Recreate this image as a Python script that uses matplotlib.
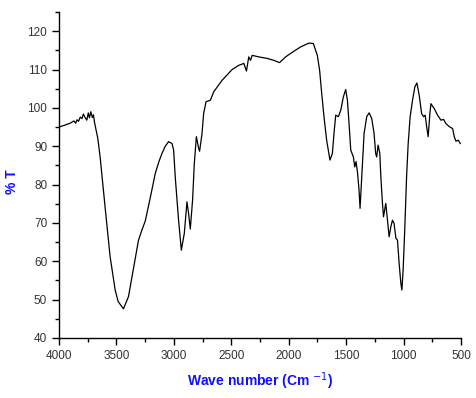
import matplotlib
matplotlib.use('Agg')
import matplotlib.pyplot as plt
from matplotlib.ticker import MultipleLocator

# FTIR spectrum
wavenumber = [4000, 3950, 3904, 3870, 3855, 3843, 3830, 3815, 3800, 3788, 3775, 3758,
              3745, 3735, 3723, 3710, 3700, 3692, 3662, 3642, 3599, 3555, 3511, 3485,
              3439, 3395, 3354, 3308, 3280, 3249, 3206, 3162, 3130, 3104, 3075, 3046, 3016, 3002, 2988,
              2959, 2935, 2909, 2886, 2872, 2857, 2837, 2822, 2804, 2784, 2776, 2755,
              2741, 2720, 2682, 2653, 2580, 2493, 2435, 2391, 2368, 2348, 2333, 2318,
              2261, 2187, 2130, 2080, 2027, 1984, 1897, 1824, 1786, 1751, 1731, 1713,
              1693, 1670, 1641, 1620, 1606, 1591, 1568, 1547, 1524, 1504, 1489, 1475,
              1460, 1437, 1425, 1414, 1402, 1388, 1379, 1364, 1344, 1321, 1300, 1277,
              1257, 1243, 1234, 1222, 1207, 1198, 1184, 1175, 1155, 1140, 1126, 1111,
              1097, 1083, 1067, 1053, 1039, 1024, 1015, 1004, 989, 974, 960, 943,
              922, 902, 884, 864, 843, 826, 812, 797, 786, 771, 762, 733,
              704, 675, 652, 631, 602, 573, 559, 544, 524, 506]
transmittance = [95.0, 95.5, 96.0, 96.6, 96.0, 96.9, 96.5, 97.6, 97.2, 98.4, 97.6, 96.8,
                 98.7, 97.4, 99.0, 97.5, 98.2, 96.4, 92.0, 87.2, 74.2, 61.2, 52.5, 49.5,
                 47.6, 50.8, 57.7, 65.5, 68.0, 70.5, 76.5, 82.9, 86.0, 88.1, 90.0, 91.2, 90.7, 89.0, 82.0,
                 70.7, 62.9, 67.3, 75.5, 72.5, 68.4, 76.0, 85.5, 92.5, 89.4, 88.7, 93.3,
                 98.5, 101.6, 102.0, 104.2, 107.2, 110.0, 111.1, 111.6, 109.6, 113.3, 112.4, 113.7,
                 113.3, 112.9, 112.4, 111.8, 113.3, 114.2, 115.9, 116.9, 116.8, 113.7, 109.8, 103.8,
                 97.7, 91.6, 86.4, 88.1, 93.3, 98.1, 97.7, 99.4, 102.9, 104.8, 102.0, 96.0,
                 89.0, 87.2, 84.6, 86.0, 83.4, 78.6, 73.8, 82.0, 93.3, 97.7, 98.7, 97.2,
                 93.3, 88.1, 87.2, 90.3, 88.1, 82.0, 75.1, 71.6, 75.1, 70.7, 66.4, 69.0,
                 70.7, 69.9, 66.0, 65.5, 59.5, 54.3, 52.5, 57.7, 69.0, 82.0, 90.7, 97.7,
                 102.0, 105.5, 106.5, 103.3, 98.5, 97.7, 98.1, 94.6, 92.5, 98.5, 101.1, 99.8,
                 98.1, 96.8, 97.0, 95.9, 95.1, 94.6, 92.5, 91.3, 91.6, 90.7]

plt.rcParams['font.family'] = ['Liberation Sans', 'DejaVu Sans']

fig = plt.figure(figsize=(4.77, 3.98), dpi=100)
ax = fig.add_axes([0.1237, 0.1508, 0.8428, 0.8190])

ax.plot(wavenumber, transmittance, color='black', linewidth=0.9)

ax.set_xlim(4000, 500)
ax.set_ylim(40, 125)
ax.xaxis.set_major_locator(MultipleLocator(500))
ax.xaxis.set_minor_locator(MultipleLocator(250))
ax.yaxis.set_minor_locator(MultipleLocator(5))
ax.set_yticks(range(40, 121, 10))

for side in ['top', 'right']:
    ax.spines[side].set_visible(False)
for side in ['left', 'bottom']:
    ax.spines[side].set_linewidth(1.0)

ax.tick_params(which='major', direction='out', length=5, width=1, labelsize=8.5,
               labelcolor='#333333')
ax.tick_params(which='minor', direction='out', length=3, width=1)

# axis titles placed where the reference has them
fig.text(0.545, 0.043, 'Wave number (Cm $^{-1}$)', color='#1010ff', fontsize=10,
         fontweight='bold', ha='center', va='center')
fig.text(0.026, 0.543, '% T', color='#1010ff', fontsize=10, fontweight='bold',
         rotation=90, ha='center', va='center')

fig.savefig('out.png', dpi=100)
